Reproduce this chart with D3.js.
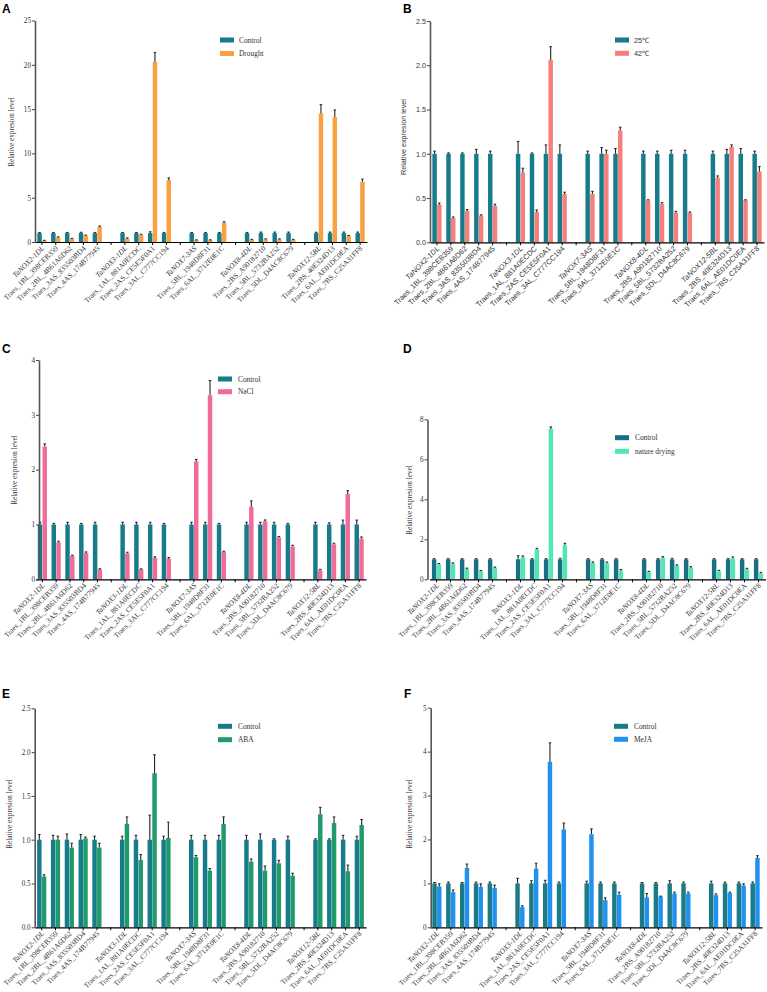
<!DOCTYPE html>
<html><head><meta charset="utf-8">
<script src="https://cdn.jsdelivr.net/npm/d3@7/dist/d3.min.js"></script>
<style>body{margin:0;background:#fff}</style>
</head><body>
<script>
// ---------- DATA ----------
const categories = [
  "TaNOX2-1DL","Traes_1BL_398CEB359","Traes_2BL_4B61A6D62","Traes_3AS_835503BD4","Traes_4AS_174B77945",
  "TaNOX3-1DL","Traes_1AL_881A0ECDC","Traes_2AS_CE5E5F0A1","Traes_3AL_C777CC194",
  "TaNOX7-3AS","Traes_5BL_1948D8F31","Traes_6AL_3712E0E1C",
  "TaNOX8-4DL","Traes_2BS_A90182710","Traes_5BL_5732BA252","Traes_5DL_D4AC8C679",
  "TaNOX12-5BL","Traes_2BS_40E324D13","Traes_6AL_AE01DC0EA","Traes_7BS_C25A31FF8"
];
const groupSizes = [5, 4, 3, 4, 4];

// Panel A: Drought
const ctrlA    = [1,1,1,1,1, 1,1,1,1, 1,1,1, 1,1,1,1, 1,1,1,1];
const ctrlErrA = [0.08,0.08,0.08,0.1,0.08, 0.08,0.08,0.15,0.08, 0.08,0.08,0.08, 0.08,0.12,0.12,0.12, 0.1,0.12,0.12,0.12];
const droughtA    = [0.15,0.5,0.35,0.7,1.72, 0.38,0.78,20.35,6.98, 0.2,0.2,2.18, 0.25,0.3,0.3,0.25, 14.5,14.1,0.68,6.8];
const droughtErrA = [0.04,0.08,0.06,0.08,0.08, 0.08,0.1,1.05,0.25, 0.04,0.04,0.1, 0.05,0.05,0.05,0.05, 1.0,0.8,0.06,0.3];

// Panel B: heat
const ctrlB    = [1,1,1,1,1, 1,1,1,1, 1,1,1, 1,1,1,1, 1,1,1,1];
const ctrlErrB = [0.03,0.01,0.01,0.05,0.03, 0.14,0.01,0.1,0.1, 0.03,0.07,0.06, 0.03,0.03,0.04,0.04, 0.03,0.05,0.06,0.03];
const heatB    = [0.425,0.275,0.354,0.30,0.41, 0.787,0.34,2.06,0.546, 0.546,1.0,1.265, 0.474,0.433,0.335,0.335, 0.73,1.077,0.474,0.80];
const heatErrB = [0.018,0.011,0.016,0.01,0.02, 0.05,0.025,0.15,0.02, 0.03,0.04,0.035, 0.006,0.015,0.015,0.008, 0.02,0.023,0.006,0.055];

// Panel C: NaCl
const ctrlC    = [1,1,1,1,1, 1,1,1,1, 1,1,1, 1,1,1,1, 1,1,1,1];
const ctrlErrC = [0.04,0.02,0.04,0.02,0.04, 0.04,0.04,0.04,0.02, 0.04,0.04,0.02, 0.04,0.04,0.04,0.02, 0.04,0.03,0.08,0.08];
const saltC    = [2.42,0.675,0.425,0.48,0.18, 0.474,0.18,0.39,0.377, 2.146,3.356,0.5, 1.32,1.058,0.766,0.596, 0.164,0.638,1.556,0.742];
const saltErrC = [0.05,0.02,0.015,0.02,0.012, 0.02,0.01,0.02,0.02, 0.04,0.27,0.012, 0.11,0.025,0.015,0.025, 0.018,0.02,0.06,0.03];

// Panel D: nature drying
const ctrlD    = [1,1,1,1,1, 1,1,1,1, 1,1,1, 1,1,1,1, 1,1,1,1];
const ctrlErrD = [0.03,0.03,0.03,0.03,0.03, 0.18,0.03,0.03,0.05, 0.03,0.03,0.03, 0.03,0.03,0.05,0.03, 0.03,0.03,0.03,0.03];
const dryD     = [0.75,0.78,0.52,0.4,0.57, 1.12,1.5,7.52,1.7, 0.82,0.8,0.43, 0.37,1.07,0.67,0.58, 0.4,1.05,0.5,0.3];
const dryErrD  = [0.04,0.04,0.04,0.04,0.04, 0.05,0.05,0.1,0.1, 0.05,0.06,0.06, 0.03,0.06,0.05,0.05, 0.05,0.07,0.05,0.05];

// Panel E: ABA
const ctrlE    = [1,1,1,1,1, 1,1,1,1, 1,1,1, 1,1,1,1, 1,1,1,1];
const ctrlErrE = [0.06,0.05,0.065,0.06,0.04, 0.04,0.05,0.28,0.04, 0.05,0.05,0.05, 0.05,0.065,0.01,0.04, 0.01,0.01,0.05,0.04];
const abaE     = [0.58,1.0,0.91,1.015,0.91, 1.18,0.77,1.76,1.02, 0.8,0.647,1.18, 0.75,0.647,0.73,0.59, 1.29,1.19,0.64,1.168];
const abaErrE  = [0.02,0.04,0.05,0.015,0.05, 0.08,0.06,0.21,0.18, 0.02,0.023,0.08, 0.03,0.053,0.035,0.027, 0.08,0.07,0.07,0.062];

// Panel F: MeJA
const ctrlF    = [1,1,1,1,1, 1,1,1,1, 1,1,1, 1,1,1,1, 1,1,1,1];
const ctrlErrF = [0.02,0.03,0.02,0.03,0.03, 0.115,0.06,0.07,0.03, 0.05,0.03,0.03, 0.02,0.02,0.06,0.03, 0.05,0.03,0.03,0.03];
const mejaF    = [0.93,0.8,1.35,0.92,0.9, 0.46,1.335,3.77,2.23, 2.12,0.62,0.74, 0.68,0.7,0.77,0.77, 0.73,0.78,0.955,1.58];
const mejaErrF = [0.06,0.05,0.09,0.07,0.06, 0.03,0.125,0.43,0.145, 0.12,0.05,0.06, 0.09,0.01,0.03,0.03, 0.03,0.02,0.035,0.05];

const ticksA = [0,5,10,15,20,25];
const ticksB = [0,0.5,1.0,1.5,2.0,2.5];
const ticksC = [0,1,2,3,4];
const ticksD = [0,2,4,6,8];
const ticksE = [0,0.5,1.0,1.5,2.0,2.5];
const ticksF = [0,1,2,3,4,5];

const legendA = ["Control","Drought"];
const legendB = ["25\u2103","42\u2103"];
const legendC = ["Control","NaCl"];
const legendD = ["Control","nature drying"];
const legendE = ["Control","ABA"];
const legendF = ["Control","MeJA"];
const yTitle = "Relative expresion level";

// ---------- DRAW ----------
const W = 767, H = 992;
const svg = d3.select("body").append("svg").attr("width", W).attr("height", H)
  .style("font-family", "'Liberation Serif', 'Times New Roman', serif");

// slots: categories plus a gap slot between groups
const slots = [];
let ci = 0;
groupSizes.forEach((g, gi) => {
  for (let k = 0; k < g; k++) slots.push(categories[ci++]);
  if (gi < groupSizes.length - 1) slots.push("gap" + gi);
});

const SERIF = "'Liberation Serif', 'Times New Roman', serif";
const SANS = "'Liberation Sans', Arial, sans-serif";

function panel(cfg) {
  const g = svg.append("g");
  const x = d3.scaleBand().domain(slots).range(cfg.xr).paddingInner(0).paddingOuter(0);
  const y = d3.scaleLinear().domain([0, cfg.max]).range([cfg.y0, cfg.yTop]);
  const inner = d3.scaleBand().domain(["c", "t"]).range([-4.6, 4.6]).paddingInner(0.06);
  const font = cfg.font;

  // bars
  const rows = categories.map((c, i) => ({c, i}));
  const series = [
    {k: "c", vals: cfg.ctrl, errs: cfg.ctrlErr, color: cfg.cColor},
    {k: "t", vals: cfg.treat, errs: cfg.treatErr, color: cfg.tColor}
  ];
  series.forEach(s => {
    const bx = d => x(d.c) + x.bandwidth() / 2 + inner(s.k);
    g.selectAll(null).data(rows).join("rect")
      .attr("x", bx).attr("width", inner.bandwidth())
      .attr("y", d => y(s.vals[d.i])).attr("height", d => y(0) - y(s.vals[d.i]))
      .attr("fill", s.color);
    const cx = d => bx(d) + inner.bandwidth() / 2;
    g.selectAll(null).data(rows).join("line")
      .attr("x1", cx).attr("x2", cx)
      .attr("y1", d => y(s.vals[d.i])).attr("y2", d => y(s.vals[d.i] + s.errs[d.i]))
      .attr("stroke", "#222").attr("stroke-width", 1.1);
    g.selectAll(null).data(rows).join("line")
      .attr("x1", d => cx(d) - 1.3).attr("x2", d => cx(d) + 1.3)
      .attr("y1", d => y(s.vals[d.i] + s.errs[d.i])).attr("y2", d => y(s.vals[d.i] + s.errs[d.i]))
      .attr("stroke", "#222").attr("stroke-width", 1);
  });

  // x axis
  const xa = g.append("g").attr("transform", `translate(0,${cfg.y0})`)
    .call(d3.axisBottom(x).tickSize(3).tickSizeOuter(0).tickFormat(d => d.startsWith("gap") ? "" : d));
  xa.select(".domain").attr("stroke", "#000").attr("stroke-width", 1.2);
  xa.selectAll(".tick line").attr("stroke", "#000");
  xa.selectAll(".tick text")
    .attr("font-family", font).attr("font-size", 7.4).attr("fill", "#333")
    .attr("font-style", d => d.startsWith("TaNOX") ? "italic" : "normal")
    .attr("text-anchor", "end")
    .attr("transform", "translate(1,5) rotate(-45)")
    .attr("y", 0).attr("dy", "0.35em").attr("x", 0);

  // y axis
  const ya = g.append("g").attr("transform", `translate(${cfg.yx},0)`)
    .call(d3.axisLeft(y).tickValues(cfg.ticks).tickSize(3).tickSizeOuter(0).tickFormat(cfg.fmt));
  ya.select(".domain").attr("stroke", "#555").attr("stroke-width", 1.6);
  ya.selectAll(".tick line").attr("stroke", "#444");
  ya.selectAll(".tick text").attr("font-family", font).attr("font-size", 7.2).attr("fill", "#333").attr("x", -4);

  // y title
  g.append("text").attr("transform", `translate(${cfg.tx},${cfg.ty}) rotate(-90)`)
    .attr("text-anchor", "middle").attr("font-family", font).attr("font-size", 7.2)
    .attr("fill", "#333").text(yTitle);

  // legend
  cfg.legend.forEach((lab, i) => {
    const ly = cfg.ly[i];
    g.append("rect").attr("x", cfg.lx).attr("y", ly - 2.5).attr("width", 14).attr("height", 5)
      .attr("fill", i === 0 ? cfg.cColor : cfg.tColor);
    g.append("text").attr("x", cfg.ltx).attr("y", ly).attr("dy", "0.35em")
      .attr("font-family", font).attr("font-size", 7.4).attr("fill", "#333").text(lab);
  });

  // panel letter
  g.append("text").attr("x", cfg.px).attr("y", cfg.py).attr("font-family", SANS)
    .attr("font-weight", "bold").attr("font-size", 12).attr("fill", "#000").text(cfg.letter);
}

const fmtInt = d3.format("d"), fmt1 = d3.format(".1f");

panel({letter:"A", px:2, py:13, xr:[35,367], yx:35, y0:242, yTop:20.5, max:25, ticks:ticksA, fmt:fmtInt,
  ctrl:ctrlA, ctrlErr:ctrlErrA, treat:droughtA, treatErr:droughtErrA, cColor:"#177b8b", tColor:"#f9a042",
  font:SERIF, tx:14, ty:132, legend:legendA, lx:220, ly:[40,53.5], ltx:239});
panel({letter:"B", px:403, py:13, xr:[430,764], yx:430, y0:242.3, yTop:21, max:2.5, ticks:ticksB, fmt:fmt1,
  ctrl:ctrlB, ctrlErr:ctrlErrB, treat:heatB, treatErr:heatErrB, cColor:"#177b8b", tColor:"#f57f7c",
  font:SANS, tx:406, ty:137, legend:legendB, lx:615, ly:[40,53.3], ltx:634});
panel({letter:"C", px:2, py:353, xr:[35.5,366], yx:39, y0:579.3, yTop:360, max:4, ticks:ticksC, fmt:fmtInt,
  ctrl:ctrlC, ctrlErr:ctrlErrC, treat:saltC, treatErr:saltErrC, cColor:"#177b8b", tColor:"#f06c98",
  font:SERIF, tx:17, ty:470, legend:legendC, lx:218, ly:[379,391.7], ltx:238});
panel({letter:"D", px:403, py:353, xr:[429.5,765.5], yx:427.5, y0:579.3, yTop:419.3, max:8, ticks:ticksD, fmt:fmtInt,
  ctrl:ctrlD, ctrlErr:ctrlErrD, treat:dryD, treatErr:dryErrD, cColor:"#1b6f84", tColor:"#52e6b4",
  font:SERIF, tx:412, ty:500, legend:legendD, lx:615, ly:[437.7,451.3], ltx:635});
panel({letter:"E", px:2, py:698, xr:[34.8,366.2], yx:34.7, y0:927.3, yTop:708.3, max:2.5, ticks:ticksE, fmt:fmt1,
  ctrl:ctrlE, ctrlErr:ctrlErrE, treat:abaE, treatErr:abaErrE, cColor:"#177b8b", tColor:"#1f9a6b",
  font:SERIF, tx:12, ty:814, legend:legendE, lx:218, ly:[726.3,739.7], ltx:238});
panel({letter:"F", px:404, py:698, xr:[430,762], yx:430.7, y0:927.3, yTop:707.7, max:5, ticks:ticksF, fmt:fmtInt,
  ctrl:ctrlF, ctrlErr:ctrlErrF, treat:mejaF, treatErr:mejaErrF, cColor:"#1a7b87", tColor:"#2191f0",
  font:SERIF, tx:412, ty:814, legend:legendF, lx:614, ly:[726.3,739.3], ltx:634});
</script>
</body></html>
